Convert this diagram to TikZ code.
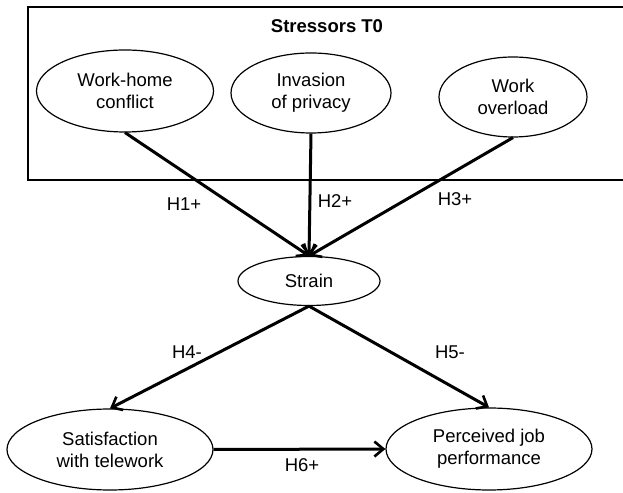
\documentclass[tikz,border=0pt]{standalone}
\usepackage{fontspec}
\setmainfont{Liberation Sans}
\usetikzlibrary{arrows.meta,positioning,shapes.geometric}
\tikzset{
  factor/.style={draw,ellipse,line width=1.2pt,inner sep=0pt,align=center,
    font=\fontsize{18.5}{22}\selectfont},
  path/.style={line width=3pt,-{Straight Barb[length=9pt,width=15pt,line width=2.6pt]}},
  hyp/.style={font=\fontsize{18.5}{22}\selectfont}
}
\begin{document}
\begin{tikzpicture}[x=1pt,y=1pt]
    \useasboundingbox (0,0) rectangle (623,492);
    \draw[line width=1.4pt] (650,485) -- (28,485) -- (28,312) -- (650,312);
    \node[font=\fontsize{18.5}{22}\selectfont\bfseries] (title) at (327,466) {Stressors T0};
    \node[factor,minimum width=177pt,minimum height=82pt] (whc) at (125,401) {Work-home\\conflict};
    \node[factor,minimum width=160pt,minimum height=80pt] (inv) at (311,399) {Invasion\\of privacy};
    \node[factor,minimum width=148pt,minimum height=80pt] (ovl) at (513,395) {Work\\overload};
    \node[factor,minimum width=142pt,minimum height=49pt] (strain) at (309,211) {Strain};
    \node[factor,minimum width=206pt,minimum height=81pt] (sat) at (110,42.5) {Satisfaction\\with telework};
    \node[factor,minimum width=206pt,minimum height=82pt] (perf) at (489,43) {Perceived job\\performance};
    % hypotheses
    \draw[path] (whc.south) -- (strain.north);
    \draw[path] (inv.south) -- (strain.north);
    \draw[path] (ovl.south) -- (strain.north);
    \draw[path] (strain.south) -- (sat.north);
    \draw[path] (strain.south) -- (perf.north);
    \draw[path] (sat.east) -- (perf.west);
    \node[hyp] (h1) at (184,288) {H1+};
    \node[hyp] (h2) at (335,291) {H2+};
    \node[hyp] (h3) at (455,293) {H3+};
    \node[hyp] (h4) at (187,140) {H4-};
    \node[hyp] (h5) at (450,140) {H5-};
    \node[hyp] (h6) at (302,27) {H6+};
\end{tikzpicture}
\end{document}
